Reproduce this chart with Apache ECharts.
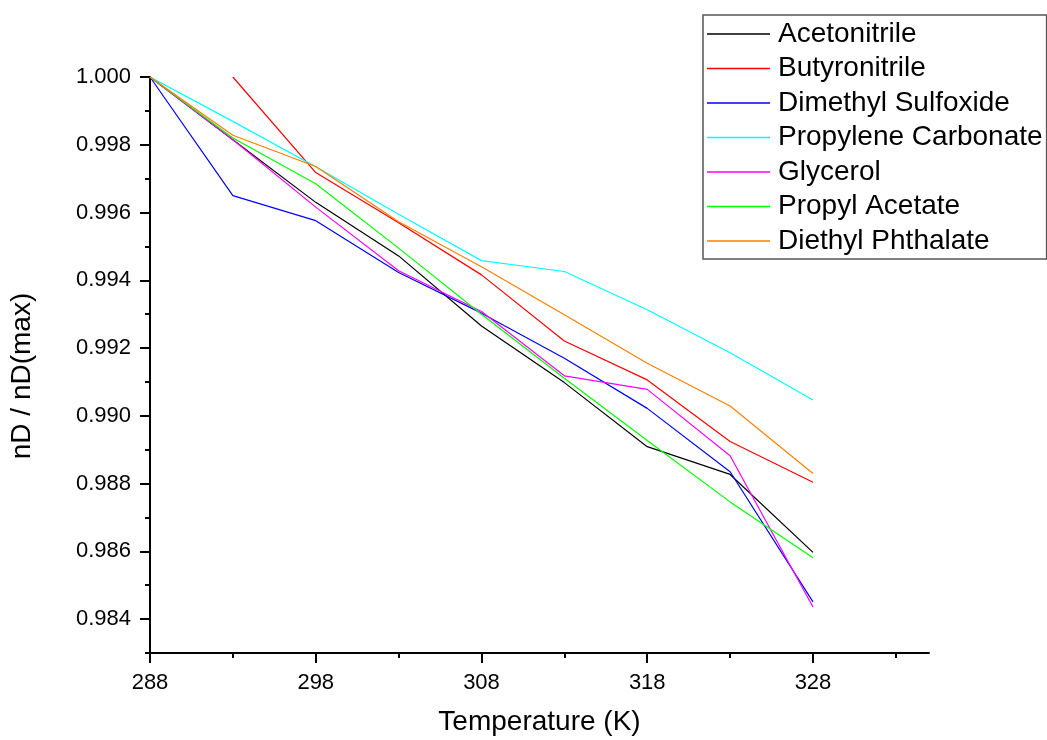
<!DOCTYPE html>
<html>
<head>
<meta charset="utf-8">
<script src="https://cdn.jsdelivr.net/npm/echarts@6/dist/echarts.min.js"></script>
<style>
html,body{margin:0;padding:0;background:#fff;}
#chart{width:1047px;height:740px;}
</style>
</head>
<body>
<div id="chart"></div>
<script>
// ---- data ----
const temps = [288, 293, 298, 303, 308, 313, 318, 323, 328];
const acetonitrile       = [1.0000, 0.99815, 0.99630, 0.99472, 0.99265, 0.99098, 0.98909, 0.98827, 0.98597];
const butyronitrile      = [null,   1.0000,  0.99718, 0.99570, 0.99416, 0.99221, 0.99106, 0.98924, 0.98804];
const dimethylSulfoxide  = [1.0000, 0.99650, 0.99576, 0.99423, 0.99303, 0.99170, 0.99022, 0.98835, 0.98451];
const propyleneCarbonate = [1.0000, 0.99869, 0.99735, 0.99595, 0.99458, 0.99426, 0.99313, 0.99186, 0.99047];
const glycerol           = [1.0000, 0.99815, 0.99616, 0.99428, 0.99308, 0.99118, 0.99078, 0.98882, 0.98436];
const propylAcetate      = [1.0000, 0.99820, 0.99685, 0.99495, 0.99300, 0.99111, 0.98927, 0.98746, 0.98581];
const diethylPhthalate   = [1.0000, 0.99828, 0.99736, 0.99573, 0.99440, 0.99298, 0.99155, 0.99029, 0.98830];

const seriesNames = ['Acetonitrile', 'Butyronitrile', 'Dimethyl Sulfoxide', 'Propylene Carbonate', 'Glycerol', 'Propyl Acetate', 'Diethyl Phthalate'];
const seriesValues = [acetonitrile, butyronitrile, dimethylSulfoxide, propyleneCarbonate, glycerol, propylAcetate, diethylPhthalate];
const seriesColors = ['#000000', '#ff0000', '#0000ff', '#00ffff', '#ff00ff', '#00ff00', '#ff8000'];

const xMajorTicks = [288, 298, 308, 318, 328];
const xMinorTicks = [293, 303, 313, 323, 333];
const yMajorTicks = [0.984, 0.986, 0.988, 0.990, 0.992, 0.994, 0.996, 0.998, 1.000];
const yMinorTicks = [0.983, 0.985, 0.987, 0.989, 0.991, 0.993, 0.995, 0.997, 0.999];

const xTitle = 'Temperature (K)';
const yTitle = 'nD / nD(max)';

// ---- chart ----
const FONT = '"Liberation Sans", Arial, sans-serif';
const chart = echarts.init(document.getElementById('chart'), null, {renderer: 'canvas'});

const series = seriesNames.map((name, i) => ({
  name: name,
  type: 'line',
  symbol: 'none',
  showSymbol: false,
  animation: false,
  color: seriesColors[i],
  lineStyle: {width: 1.2, color: seriesColors[i]},
  data: temps.map((t, j) => seriesValues[i][j] == null ? null : [t, seriesValues[i][j]]).filter(d => d !== null)
}));

const axisLineStyle = {show: true, lineStyle: {color: '#000', width: 2}};

const option = {
  backgroundColor: '#ffffff',
  animation: false,
  grid: {left: 150, right: 118, top: 77, bottom: 87, containLabel: false, outerBoundsMode: 'none'},
  legend: {
    orient: 'vertical',
    left: 703, top: 15,
    padding: [5, 4, 4, 4],
    itemGap: 6.5,
    itemWidth: 63,
    itemHeight: 1.5,
    icon: 'rect',
    backgroundColor: '#ffffff',
    borderColor: '#555555',
    borderWidth: 1.5,
    borderRadius: 0,
    textStyle: {fontSize: 28, fontFamily: FONT, color: '#000', lineHeight: 25, padding: [0, 0, 0, 3]},
    data: seriesNames
  },
  xAxis: [{
    type: 'value', min: 288, max: 335,
    name: xTitle, nameLocation: 'middle', nameGap: 55,
    nameTextStyle: {fontSize: 28, fontFamily: FONT, color: '#000'},
    axisLine: axisLineStyle,
    axisTick: {show: true, length: 10, lineStyle: {width: 2, color: '#000'}, customValues: xMajorTicks},
    axisLabel: {show: true, margin: 19, fontSize: 22, fontFamily: FONT, color: '#000', customValues: xMajorTicks, formatter: v => String(v)},
    splitLine: {show: false}
  }, {
    type: 'value', min: 288, max: 335, position: 'bottom',
    axisLine: {show: false},
    axisTick: {show: true, length: 5, lineStyle: {width: 2, color: '#000'}, customValues: xMinorTicks},
    axisLabel: {show: false},
    splitLine: {show: false}
  }],
  yAxis: [{
    type: 'value', min: 0.983, max: 1.0,
    name: yTitle, nameLocation: 'middle', nameGap: 114,
    nameTextStyle: {fontSize: 28, fontFamily: FONT, color: '#000', padding: [0, 22, 0, 0]},
    axisLine: axisLineStyle,
    axisTick: {show: true, length: 10, lineStyle: {width: 2, color: '#000'}, customValues: yMajorTicks},
    axisLabel: {show: true, margin: 19, fontSize: 22, fontFamily: FONT, color: '#000', customValues: yMajorTicks, formatter: v => v.toFixed(3)},
    splitLine: {show: false}
  }, {
    type: 'value', min: 0.983, max: 1.0, position: 'left',
    axisLine: {show: false},
    axisTick: {show: true, length: 5, lineStyle: {width: 2, color: '#000'}, customValues: yMinorTicks},
    axisLabel: {show: false},
    splitLine: {show: false}
  }],
  series: series
};
chart.setOption(option);
</script>
</body>
</html>
